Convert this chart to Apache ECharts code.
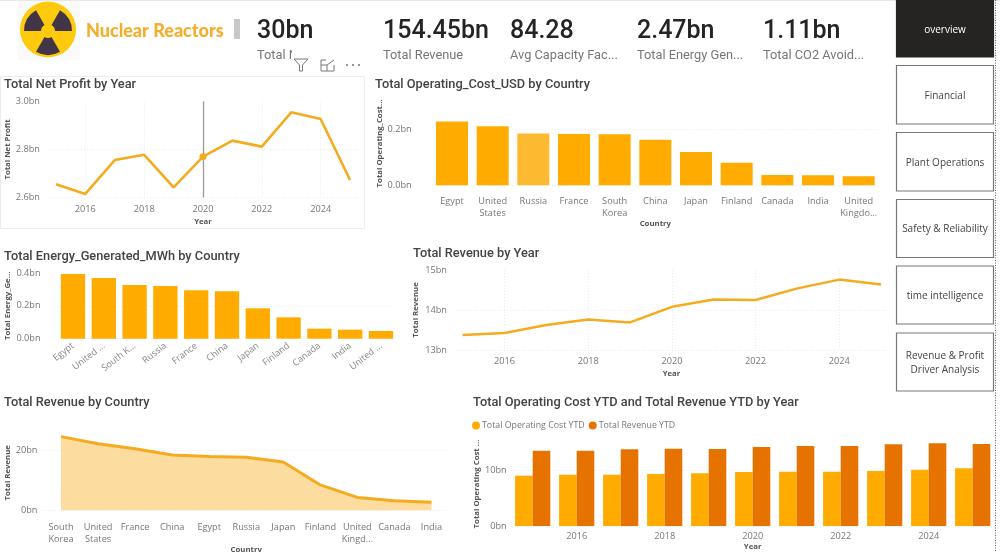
<!DOCTYPE html>
<html><head><meta charset="utf-8">
<style>html,body{margin:0;padding:0;background:#fff}#c{width:1000px;height:552px}</style>
<script src="https://cdn.jsdelivr.net/npm/echarts@6/dist/echarts.min.js"></script>
</head><body><div id="c"></div>
<script>
// ---- data ----
const years = [2015,2016,2017,2018,2019,2020,2021,2022,2023,2024,2025];
const netProfit = [2.655,2.615,2.756,2.778,2.642,2.77,2.837,2.812,2.955,2.927,2.673];
const revenueByYear = [13.375,13.425,13.625,13.76,13.69,14.08,14.26,14.25,14.54,14.76,14.64];
const costCountries = ['Egypt','United\nStates','Russia','France','South\nKorea','China','Japan','Finland','Canada','India','United\nKingdo...'];
const costValues = [0.229,0.2115,0.186,0.184,0.183,0.163,0.119,0.081,0.037,0.036,0.032];
const energyCountries = ['Egypt','United ...','South K...','Russia','France','China','Japan','Finland','Canada','India','United ...'];
const energyValues = [0.394,0.37,0.327,0.321,0.295,0.289,0.185,0.13,0.061,0.055,0.047];
const revCountries = ['South\nKorea','United\nStates','France','China','Egypt','Russia','Japan','Finland','United\nKingd...','Canada','India'];
const revValues = [24.55,22.2,20.55,18.4,17.9,17.65,16.1,8.45,4.3,3.2,2.7];
const costYtd = [8.99,9.17,9.17,9.29,9.4,9.64,9.7,9.7,9.82,10.06,10.3];
const revenueYtd = [13.45,13.45,13.69,13.81,13.75,14.1,14.29,14.29,14.58,14.76,14.64];
const yearLabels = [2016,2018,2020,2022,2024];
const highlightYear = 2020;
const highlightCountry = 'Russia';
const kpiValues = ['30bn','154.45bn','84.28','2.47bn','1.11bn'];
const kpiLabels = ['Total Net Profit','Total Revenue','Avg Capacity Fac...','Total Energy Gen...','Total CO2 Avoid...'];
const navItems = ['overview','Financial','Plant Operations','Safety & Reliability','time intelligence','Revenue & Profit\nDriver Analysis'];
const chartTitles = ['Total Net Profit by Year','Total Operating_Cost_USD by Country','Total Energy_Generated_MWh by Country','Total Revenue by Year','Total Revenue by Country','Total Operating Cost YTD and Total Revenue YTD by Year'];

// ---- style ----
const AMBER='#FFAB00', ORANGE='#E67300', LINE='#F5AB1E', AREA='#FCDC9F';
const TXT='#777', UI='"Open Sans"', HEAD='Roboto';
const grid=(l,r,t,b)=>({left:l,top:t,width:r-l,height:b-t,outerBoundsMode:'none'});
const dotted={show:true,lineStyle:{color:'#EBEBEB',type:[1,2],width:1}};
const nameStyle={fontFamily:UI,fontSize:7.8,fontWeight:'bold',color:'#555'};
const labelStyle={fontFamily:UI,fontSize:9.2,color:TXT};
function yAx(i,name,gap,margin,opt){return Object.assign({type:'value',gridIndex:i,name,nameLocation:'middle',nameGap:gap,nameTextStyle:nameStyle,
  axisLine:{show:false},axisTick:{show:false},splitLine:Object.assign({showMaxLine:false},dotted),axisLabel:Object.assign({margin,showMaxLabel:false},labelStyle)},opt);}
function yearAx(i,min,max,gap){return {type:'value',gridIndex:i,min,max,name:'Year',nameLocation:'middle',nameGap:gap,nameTextStyle:nameStyle,
  axisLine:{show:false},axisTick:{show:false,customValues:yearLabels},splitLine:dotted,
  axisLabel:Object.assign({customValues:yearLabels,formatter:v=>String(v),margin:7},labelStyle)};}
function catAx(i,data,name,gap,extra){return {type:'category',gridIndex:i,data,name,nameLocation:'middle',nameGap:gap,nameTextStyle:nameStyle,
  axisLine:{show:false},axisTick:{show:false},splitLine:{show:false},
  axisLabel:Object.assign({interval:0,margin:10,lineHeight:12},labelStyle,extra||{})};}
const fmt=(d)=>(v=>v.toFixed(d)+'bn');

// ---- page furniture ----
const gfx=[];
const cx=48, cy=31;
gfx.push({type:'rect',shape:{x:18,y:0,width:62,height:60},style:{fill:'#FAFAFA'}});
gfx.push({type:'circle',shape:{cx:48,cy:29.5,r:28},style:{fill:'#FDCB0B'}});
[[180,240],[300,360],[60,120]].forEach(a=>gfx.push({type:'sector',shape:{cx,cy,r0:7,r:24,startAngle:a[0]*Math.PI/180,endAngle:a[1]*Math.PI/180},style:{fill:'#423547'}}));
gfx.push({type:'text',style:{x:86,y:31,text:'Nuclear Reactors',fill:'#F5AD2A',font:'900 18px Lato',verticalAlign:'middle'}});
gfx.push({type:'rect',shape:{x:234,y:19,width:6,height:20},style:{fill:'#C8C8C8'}});
gfx.push({type:'rect',shape:{x:0,y:0,width:1000,height:1},style:{fill:'#E8E8E8'}});
const kpiX=[257,383,510,637,763];
kpiValues.forEach((v,i)=>{
  gfx.push({type:'text',style:{x:kpiX[i],y:31.5,text:v,fill:'#252423',font:'500 25px '+HEAD,verticalAlign:'middle'}});
  gfx.push({type:'text',style:{x:kpiX[i],y:56,text:kpiLabels[i],fill:'#777',font:'12.8px '+HEAD,verticalAlign:'middle'}});
});
gfx.push({type:'rect',shape:{x:250,y:62,width:630,height:9},style:{fill:'#fff'}});
gfx.push({type:'rect',shape:{x:292,y:46,width:55,height:26},style:{fill:'#fff'}});
gfx.push({type:'polygon',shape:{points:[[294,59],[308,59],[302.5,65],[302.5,71],[299.5,71],[299.5,65]]},style:{fill:'none',stroke:'#777',lineWidth:1}});
gfx.push({type:'polyline',shape:{points:[[326,60],[321,60],[321,71],[334,71],[334,65]]},style:{fill:'none',stroke:'#777',lineWidth:1}});
gfx.push({type:'polyline',shape:{points:[[327,65],[334,60]]},style:{fill:'none',stroke:'#777',lineWidth:1}});
gfx.push({type:'polyline',shape:{points:[[321,65],[327,65],[327,71]]},style:{fill:'none',stroke:'#777',lineWidth:1}});
[347,353,359].forEach(x=>gfx.push({type:'circle',shape:{cx:x,cy:65,r:0.9},style:{fill:'#666'}}));
gfx.push({type:'rect',shape:{x:0.5,y:76.5,width:364,height:152},style:{fill:'none',stroke:'#EDEDED',lineWidth:1}});
const navTop=[0,65.5,132.5,199.5,266,333], navH=[57,58.5,58.5,58,58,58];
navItems.forEach((t,i)=>{
  const dark=i===0;
  gfx.push({type:'rect',shape:{x:896.5,y:navTop[i],width:97,height:navH[i]},style:{fill:dark?'#252423':'#fff',stroke:dark?'#252423':'#777',lineWidth:1.2}});
  gfx.push({type:'text',style:{x:945,y:navTop[i]+navH[i]/2+1+(dark?1:0),text:t,fill:dark?'#fff':'#444',font:'10px '+UI,align:'center',verticalAlign:'middle',lineHeight:14}});
});
gfx.push({type:'line',shape:{x1:995.5,y1:0,x2:995.5,y2:552},style:{stroke:'#666',lineWidth:1,lineDash:[1,1.5]}});

const titlePos=[[4,85],[375,85],[4,257],[413,254],[4,403],[473,403]];

const option={
  animation:false,
  backgroundColor:'#fff',
  title:chartTitles.map((t,i)=>({text:t,left:titlePos[i][0],top:titlePos[i][1]-7,padding:0,textStyle:{fontFamily:HEAD,fontWeight:500,fontSize:12.8,color:'#444',lineHeight:14}})),
  legend:{data:['Total Operating Cost YTD','Total Revenue YTD'],left:472,top:421,icon:'circle',itemWidth:8,itemHeight:8,itemGap:4,padding:0,
    textStyle:{fontFamily:UI,fontSize:8.8,color:TXT,padding:[0,0,0,-3]}},
  grid:[grid(48,358,101.5,197.5),grid(431.67,879,115.55,185.3),grid(57.6,396.4,273,338.7),grid(456,887,270,350),grid(42.5,450,435.3,510.3),grid(510.7,994.7,442,526)],
  xAxis:[
    yearAx(0,2014.73,2025.27,20),
    catAx(1,costCountries,'Country',27),
    catAx(2,energyCountries,'',0,{rotate:38,margin:6,color:'#888'}),
    yearAx(3,2014.84,2025.14,20),
    catAx(4,revCountries,'Country',30,{margin:11}),
    catAx(5,years,'Year',15,{interval:i=>i%2===1,margin:4})
  ],
  yAxis:[
    yAx(0,'Total Net Profit',35,8,{min:2.6,max:3.0,interval:0.2,axisLabel:Object.assign({margin:8,formatter:fmt(1)},labelStyle)}),
    yAx(1,'Total Operating_Cost...',47,20,{min:0,max:0.25,interval:0.2,nameTextStyle:Object.assign({padding:[0,0,0,14]},nameStyle),axisLabel:Object.assign({margin:20,showMaxLabel:false,formatter:fmt(1)},labelStyle)}),
    yAx(2,'Total Energy_Ge...',46,17,{min:0,max:0.4,interval:0.2,axisLabel:Object.assign({margin:17,formatter:fmt(1)},labelStyle)}),
    yAx(3,'Total Revenue',36,9,{min:13,max:15,interval:1,axisLabel:Object.assign({margin:9,formatter:fmt(0)},labelStyle)}),
    yAx(4,'Total Revenue',28,5,{min:0,max:25,interval:20,axisLabel:Object.assign({margin:5,showMaxLabel:false,formatter:fmt(0)},labelStyle)}),
    yAx(5,'Total Operating Cost ...',30,4,{min:0,max:15,interval:10,axisLabel:Object.assign({margin:4,showMaxLabel:false,formatter:fmt(0)},labelStyle)})
  ],
  series:[
    {type:'line',xAxisIndex:0,yAxisIndex:0,data:years.map((y,i)=>[y,netProfit[i]]),symbol:'none',lineStyle:{color:LINE,width:2.6},itemStyle:{color:LINE},
      markLine:{silent:true,symbol:'none',label:{show:false},lineStyle:{color:'#999',width:1.3,type:'solid'},data:[{xAxis:highlightYear}]},
      markPoint:{silent:true,symbol:'circle',symbolSize:7,label:{show:false},itemStyle:{color:LINE},data:[{coord:[highlightYear,netProfit[years.indexOf(highlightYear)]]}]}},
    {type:'bar',xAxisIndex:1,yAxisIndex:1,barWidth:32,data:costValues.map((v,i)=>({value:v,itemStyle:{color:costCountries[i]===highlightCountry?'#FDB92F':AMBER}}))},
    {type:'bar',xAxisIndex:2,yAxisIndex:2,barWidth:24.3,data:energyValues,itemStyle:{color:AMBER}},
    {type:'line',xAxisIndex:3,yAxisIndex:3,data:years.map((y,i)=>[y,revenueByYear[i]]),symbol:'none',lineStyle:{color:LINE,width:2.5},itemStyle:{color:LINE}},
    {type:'line',xAxisIndex:4,yAxisIndex:4,data:revValues,symbol:'none',lineStyle:{color:LINE,width:3},itemStyle:{color:LINE},areaStyle:{color:AREA,opacity:1}},
    {name:'Total Operating Cost YTD',type:'bar',xAxisIndex:5,yAxisIndex:5,barWidth:17.6,barGap:0,data:costYtd,itemStyle:{color:AMBER}},
    {name:'Total Revenue YTD',type:'bar',xAxisIndex:5,yAxisIndex:5,barWidth:17.6,barGap:0,data:revenueYtd,itemStyle:{color:ORANGE}}
  ],
  graphic:{elements:gfx.map(e=>Object.assign({z:100,silent:true},e))}
};
const chart=echarts.init(document.getElementById('c'),null,{renderer:'canvas'});
chart.setOption(option);
</script></body></html>
